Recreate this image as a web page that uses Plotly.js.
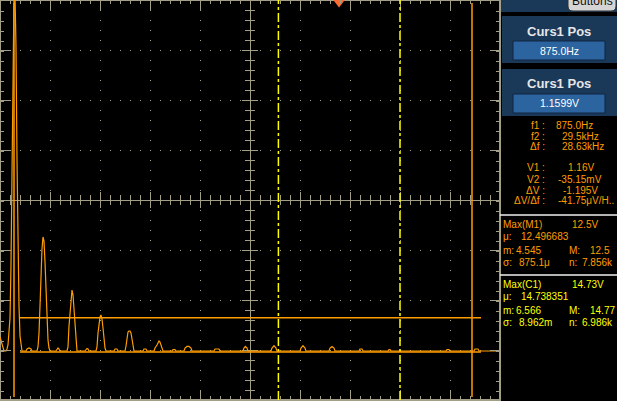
<!DOCTYPE html>
<html><head><meta charset="utf-8">
<script src="https://cdn.plot.ly/plotly-3.0.1.min.js"></script>
<style>html,body{margin:0;padding:0;background:#000;overflow:hidden}#chart{width:617px;height:401px}</style>
</head><body><div id="chart"></div>
<script>
// ---- spectrum trace (frequency in kHz, amplitude in V) ----
const freqKHz = [
  0,0.0625,0.125,0.1875,0.25,0.375,0.4375,0.5,0.5625,0.625,0.6875,0.75,0.8125,0.875,0.9375,1.0,1.0625,1.125,1.1875,1.25,1.3125,1.375,
  1.625,1.6875,1.8125,1.9375,2.0,
  2.3125,2.375,2.4375,2.5,2.5625,2.625,2.6875,2.75,2.8125,2.875,2.9375,3.0,3.0625,3.125,
  3.5,3.5625,3.625,3.6875,3.75,
  4.1875,4.25,4.3125,4.375,4.4375,4.5,4.5625,4.625,4.6875,4.75,4.8125,
  5.3125,5.375,5.4375,5.5,5.5625,
  6.0,6.0625,6.125,6.1875,6.25,6.3125,6.375,6.4375,6.5,6.5625,6.625,
  7.125,7.1875,7.3125,7.375,
  7.8125,7.875,7.9375,8.0,8.0625,8.125,8.1875,8.25,8.3125,8.375,
  8.9375,9.0,9.125,9.1875,
  9.625,9.6875,9.8125,9.875,9.9375,10.0,10.0625,10.125,10.1875,
  10.75,10.8125,10.9375,11.0,
  11.5,11.5625,11.6875,11.8125,11.9375,12.0,
  13.375,13.4375,13.6875,13.75,
  15.1875,15.25,15.34,15.4375,15.5,
  16.9375,17.0,17.125,17.25,17.3125,
  18.75,18.8125,18.9375,19.0625,19.125,
  20.5625,20.625,20.75,20.875,20.9375,
  22.4375,22.5,22.625,22.6875,
  24.25,24.3125,24.375,24.4375,
  27.875,27.9375,28.0625,28.125,
  29.625,29.6875,29.875,29.9375,31.25
];
const ampV = [
  0.49,0.35,0.175,0.07,0,0,0.07,0.21,0.56,1.155,3.01,7.035,11.13,12.5,12.5,10.64,6.685,3.71,1.575,0.525,0.175,0,
  0,0.07,0.105,0.07,0,
  0,0.14,0.63,1.575,2.695,3.57,3.99,3.85,3.115,2.135,1.085,0.385,0.105,0,
  0,0.07,0.105,0.07,0,
  0,0.14,0.875,1.435,1.96,2.135,1.96,1.435,0.735,0.28,0,
  0,0.07,0.09,0.07,0,
  0,0.14,0.63,0.945,1.19,1.26,1.12,0.805,0.385,0.105,0,
  0,0.07,0.07,0,
  0,0.175,0.525,0.665,0.7,0.7,0.63,0.455,0.21,0,
  0,0.07,0.07,0,
  0,0.105,0.21,0.315,0.35,0.315,0.21,0.105,0,
  0,0.05,0.05,0,
  0,0.105,0.16,0.16,0.105,0,
  0,0.07,0.07,0,
  0,0.105,0.16,0.105,0,
  0,0.105,0.19,0.105,0,
  0,0.105,0.19,0.105,0,
  0,0.105,0.16,0.105,0,
  0,0.07,0.07,0,
  0,0.05,0.05,0,
  0,0.05,0.05,0,
  0,0.07,0.07,0,0
];
// ---- cursors / markers ----
const cursorF = [0.875, 29.5];      // kHz (f1, f2)
const cursorV = [1.16, -0.035];     // V (V1, V2)
const gateF = [17.4, 25.0];         // kHz yellow dashed markers
const triggerF = [21.19];           // kHz trigger marker
const xRange = [0, 31.25];
const yRange = [-1.715, 12.285];

// ---- readout texts ----
const panelTitles = ["Curs1 Pos", "Curs1 Pos"];
const panelValues = ["875.0Hz", "1.1599V"];
const readLabels = ["f1 :", "f2 :", "\u0394f :", "V1 :", "V2 :", "\u0394V :", "\u0394V/\u0394f :"];
const readValues = ["875.0Hz", "29.5kHz", "28.63kHz", "1.16V", "-35.15mV", "-1.195V", "-41.75\u03bcV/H.."];
const m1Texts = ["Max(M1)", "12.5V", "\u03bc:", "12.496683", "m:", "4.545", "M:", "12.5", "\u03c3:", "875.1\u03bc", "n:", "7.856k"];
const c1Texts = ["Max(C1)", "14.73V", "\u03bc:", "14.738351", "m:", "6.566", "M:", "14.77", "\u03c3:", "8.962m", "n:", "6.986k"];

// ---- layout helpers (pixel -> paper) ----
const PW = 500, PH = 400;
const px2x = p => p / PW;
const py2y = p => 1 - p / PH;
const GRID = '#a39f86';
const ORANGE = '#ff9d00';
const FONT = 'Liberation Sans, Arial, sans-serif';

const shapes = [];
// border
shapes.push({type:'rect', xref:'paper', yref:'paper', x0:0, x1:1, y0:0, y1:1, line:{color:GRID, width:2}, layer:'below'});
// center cross
shapes.push({type:'line', xref:'paper', yref:'paper', x0:px2x(250.5), x1:px2x(250.5), y0:0, y1:1, line:{color:GRID, width:1}, layer:'below'});
shapes.push({type:'line', xref:'paper', yref:'paper', x0:0, x1:1, y0:py2y(200.5), y1:py2y(200.5), line:{color:GRID, width:1}, layer:'below'});
for (let i = 1; i < 50; i++) {
  const L = (i % 5 === 0) ? 8 : 5, p = i * 10 + 0.5;
  shapes.push({type:'line', xref:'paper', yref:'paper', x0:px2x(p), x1:px2x(p), y0:py2y(200 - L), y1:py2y(200 + L), line:{color:GRID, width:1}, layer:'below'});
}
for (let j = 1; j < 40; j++) {
  const L = (j % 5 === 0) ? 8 : 5, p = j * 10 + 0.5;
  shapes.push({type:'line', xref:'paper', yref:'paper', x0:px2x(250 - L), x1:px2x(250 + L), y0:py2y(p), y1:py2y(p), line:{color:GRID, width:1}, layer:'below'});
}
// yellow dashed markers
gateF.forEach(f => shapes.push({type:'line', xref:'x', yref:'paper', x0:f, x1:f, y0:0, y1:1, line:{color:'#ffff00', width:1.5, dash:'9px,3px,3px,3px'}}));
// vertical cursors
cursorF.forEach(f => shapes.push({type:'line', xref:'x', yref:'paper', x0:f, x1:f, y0:py2y(397), y1:py2y(3), line:{color:ORANGE, width:1.5}}));
// horizontal cursors
cursorV.forEach(v => shapes.push({type:'line', xref:'paper', yref:'y', x0:px2x(20), x1:px2x(481), y0:v, y1:v, line:{color:ORANGE, width:1.5}}));

// right side panels
const PANEL = '#1a3858', BOX = '#2c64a0';
shapes.push({type:'rect', xref:'paper', yref:'paper', x0:px2x(501), x1:px2x(618), y0:py2y(0), y1:py2y(12), fillcolor:PANEL, line:{width:0}});
[[16,63,41,60],[69,116,94,113]].forEach(b => {
  shapes.push({type:'rect', xref:'paper', yref:'paper', x0:px2x(502), x1:px2x(618), y0:py2y(b[0]), y1:py2y(b[1]), fillcolor:PANEL, line:{width:0}});
  shapes.push({type:'rect', xref:'paper', yref:'paper', x0:px2x(513), x1:px2x(605), y0:py2y(b[2]), y1:py2y(b[3]), fillcolor:BOX, line:{color:'#0e2440', width:1}});
});
// Buttons tab (rounded bottom corners)
(function(){
  const l = 568, r = 616, t = -10, b = 11, rad = 5;
  const X = p => px2x(p), Y = p => py2y(p);
  const path = `M${X(l)},${Y(t)} L${X(l)},${Y(b - rad)} Q${X(l)},${Y(b)} ${X(l + rad)},${Y(b)} L${X(r - rad)},${Y(b)} Q${X(r)},${Y(b)} ${X(r)},${Y(b - rad)} L${X(r)},${Y(t)} Z`;
  shapes.push({type:'path', xref:'paper', yref:'paper', path:path, fillcolor:'#d4d4d4', line:{color:'#303030', width:1}});
})();
// separator lines
[215, 275].forEach(y => shapes.push({type:'line', xref:'paper', yref:'paper', x0:px2x(500), x1:px2x(617), y0:py2y(y), y1:py2y(y), line:{color:'#f0f0f0', width:1.5}}));

const annotations = [];
function ann(text, px, py, color, size, anchor, bold) {
  annotations.push({xref:'paper', yref:'paper', x:px2x(px), y:py2y(py), xanchor:anchor || 'left', yanchor:'middle',
    text: bold ? '<b>' + text + '</b>' : text, showarrow:false, borderpad:0,
    font:{family:FONT, size:size || 10, color:color}});
}
ann('Buttons', 592, 1, '#101010', 12, 'center', false);
ann(panelTitles[0], 559, 31, '#e6e6e6', 13, 'center', true);
ann(panelValues[0], 559, 51, '#ffffff', 10.5, 'center');
ann(panelTitles[1], 559, 83, '#e6e6e6', 13, 'center', true);
ann(panelValues[1], 559, 103, '#ffffff', 10.5, 'center');
const readY = [125, 136, 147, 168, 179, 190, 201];
const readX = [555, 561, 561, 567, 557, 562, 557];
readLabels.forEach((t, i) => {
  ann(t, 546, readY[i], ORANGE, 10, 'right');
  ann(readValues[i], readX[i], readY[i], ORANGE, 10, 'left');
});
function block(texts, y0, color) {
  const pos = [[502, 0], [571, 0], [502, 12], [520, 12], [502, 26], [515, 26], [568, 26], [589, 26], [502, 38], [518, 38], [568, 38], [581, 38]];
  texts.forEach((t, i) => ann(t, pos[i][0], y0 + pos[i][1], color, 10, 'left'));
}
block(m1Texts, 224, ORANGE);
block(c1Texts, 284, '#ffff00');

const traces = [
  {x:freqKHz, y:ampV, type:'scatter', mode:'lines', line:{color:ORANGE, width:1.2}, hoverinfo:'skip'},
  {x:triggerF, y:[yRange[1] - 0.09], type:'scatter', mode:'markers', cliponaxis:false,
   marker:{symbol:'triangle-down', size:10, color:'#ff6a30', line:{width:0}}, hoverinfo:'skip'}
];

const axisCommon = {
  showticklabels:false, zeroline:false, showline:false, mirror:'ticks', ticks:'inside', ticklen:10, tickwidth:1, tickcolor:GRID,
  showgrid:true, gridcolor:GRID, gridwidth:1, griddash:'1px,9px', fixedrange:true
};
const layout = {
  width:617, height:401, margin:{l:0, r:117, t:0, b:1, pad:0},
  paper_bgcolor:'#000000', plot_bgcolor:'#000000', showlegend:false,
  xaxis:Object.assign({}, axisCommon, {range:xRange, tick0:0, dtick:3.125,
    minor:{ticks:'inside', ticklen:4, dtick:0.625, tickcolor:GRID, showgrid:false}}),
  yaxis:Object.assign({}, axisCommon, {range:yRange, tick0:yRange[0], dtick:1.75,
    minor:{ticks:'inside', ticklen:4, dtick:0.35, tickcolor:GRID, showgrid:false}}),
  shapes:shapes, annotations:annotations
};
Plotly.newPlot('chart', traces, layout, {staticPlot:true, displayModeBar:false});
</script>
</body></html>
